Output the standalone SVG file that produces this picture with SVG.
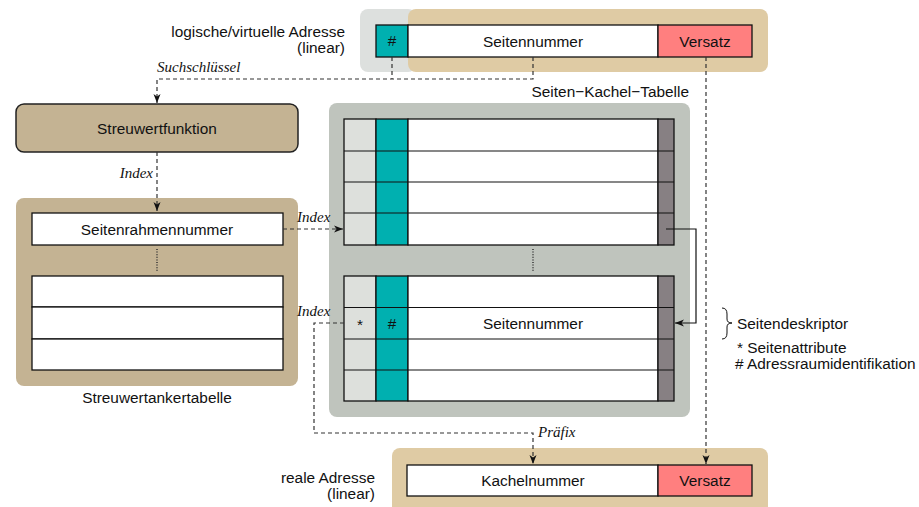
<svg xmlns="http://www.w3.org/2000/svg" width="919" height="507" viewBox="0 0 919 507">
<style>
.t{font-family:"Liberation Sans",Arial,sans-serif;font-size:15.4px;fill:#111}
.i{font-family:"Liberation Serif","Times New Roman",serif;font-style:italic;font-size:15px;fill:#111}
.c{stroke:#111;stroke-width:1.3}
.d{fill:none;stroke:#333;stroke-width:1.2;stroke-dasharray:4 3}
.s{fill:none;stroke:#111;stroke-width:1.2}
.dots{fill:none;stroke:#333;stroke-width:1.5;stroke-dasharray:1 1.6}
</style>
<defs>
<marker id="a" markerWidth="10" markerHeight="8" refX="9" refY="4" orient="auto" markerUnits="userSpaceOnUse">
<path d="M0,0.5 L9,4 L0,7.5 L2.5,4 Z" fill="#111"/>
</marker>
</defs>
<rect width="919" height="507" fill="#fff"/>

<g id="virtual-address">
<rect x="360" y="9" width="56" height="63" rx="8" fill="#dde0de"/>
<rect x="408" y="9" width="360" height="63" rx="8" fill="#dfcba4"/>
<rect x="376" y="25" width="32" height="32" fill="#00b0b0" class="c"/>
<text x="392" y="46" class="t" text-anchor="middle">#</text>
<rect x="408" y="25" width="250" height="32" fill="#fff" class="c"/>
<text x="533" y="46.5" class="t" text-anchor="middle">Seitennummer</text>
<rect x="658" y="25" width="94" height="32" fill="#ff7f7f" class="c"/>
<text x="705" y="46.5" class="t" text-anchor="middle">Versatz</text>
<text x="345" y="37" class="t" text-anchor="end">logische/virtuelle Adresse</text>
<text x="345" y="53" class="t" text-anchor="end">(linear)</text>
</g>

<g id="hash-function">
<rect x="16" y="104" width="282" height="48" rx="8" fill="#c4b393" stroke="#222" stroke-width="1.5"/>
<text x="157" y="134" class="t" text-anchor="middle">Streuwertfunktion</text>
</g>

<g id="hash-anchor-table">
<rect x="16" y="198" width="282" height="188" rx="8" fill="#c4b393"/>
<rect x="32" y="213" width="251" height="32" fill="#fff" class="c"/>
<text x="157" y="235" class="t" text-anchor="middle">Seitenrahmennummer</text>
<line x1="157" y1="249" x2="157" y2="272" class="dots"/>
<rect x="32" y="276" width="251" height="31" fill="#fff" class="c"/>
<rect x="32" y="307" width="251" height="32" fill="#fff" class="c"/>
<rect x="32" y="339" width="251" height="31" fill="#fff" class="c"/>
<text x="157" y="403" class="t" text-anchor="middle">Streuwertankertabelle</text>
</g>

<g id="page-frame-table">
<rect x="329" y="103" width="361" height="314" rx="8" fill="#bfc4bd"/>
<text x="689" y="97" class="t" text-anchor="end">Seiten−Kachel−Tabelle</text>
<g id="upper-rows">
<rect x="344" y="119" width="32" height="126" fill="#dde0dc" class="c"/>
<rect x="376" y="119" width="32" height="126" fill="#00b0b0" class="c"/>
<rect x="408" y="119" width="250" height="126" fill="#fff" class="c"/>
<rect x="658" y="119" width="16" height="126" fill="#878083" class="c"/>
<path d="M344,151H674M344,182H674M344,213H674" class="s"/>
</g>
<line x1="533" y1="249" x2="533" y2="272" class="dots"/>
<g id="lower-rows">
<rect x="344" y="276" width="32" height="125" fill="#dde0dc" class="c"/>
<rect x="376" y="276" width="32" height="125" fill="#00b0b0" class="c"/>
<rect x="408" y="276" width="250" height="125" fill="#fff" class="c"/>
<rect x="658" y="276" width="16" height="125" fill="#878083" class="c"/>
<path d="M344,307.5H674M344,339H674M344,370H674" class="s"/>
<text x="360" y="330" class="t" text-anchor="middle">*</text>
<text x="392" y="329" class="t" text-anchor="middle">#</text>
<text x="533" y="329" class="t" text-anchor="middle">Seitennummer</text>
</g>
</g>

<g id="page-descriptor-legend">
<path d="M722,308 Q727,308 727,314 L727,319 Q727,323 732,323 Q727,323 727,327 L727,333 Q727,339 722,339" fill="none" stroke="#111" stroke-width="1"/>
<text x="737" y="329" class="t">Seitendeskriptor</text>
<text x="737" y="353" class="t">* Seitenattribute</text>
<text x="735" y="369" class="t"># Adressraumidentifikation</text>
</g>

<g id="real-address">
<rect x="392" y="448" width="376" height="70" rx="8" fill="#dfcba4"/>
<rect x="407" y="465" width="251" height="31" fill="#fff" class="c"/>
<text x="533" y="486" class="t" text-anchor="middle">Kachelnummer</text>
<rect x="658" y="465" width="94" height="31" fill="#ff7f7f" class="c"/>
<text x="705" y="486" class="t" text-anchor="middle">Versatz</text>
<text x="375" y="483" class="t" text-anchor="end">reale Adresse</text>
<text x="375" y="499" class="t" text-anchor="end">(linear)</text>
</g>

<g id="connectors">
<path d="M533,57V79H157V103" class="d" marker-end="url(#a)"/>
<path d="M392,57V79" class="d"/>
<text x="157" y="72" class="i">Suchschlüssel</text>
<path d="M157,152V211" class="d" marker-end="url(#a)"/>
<text x="153" y="178" class="i" text-anchor="end">Index</text>
<path d="M283,229H343" class="d" marker-end="url(#a)"/>
<text x="297" y="222" class="i">Index</text>
<path d="M666,229H696V323H675" class="s" marker-end="url(#a)"/>
<path d="M344,323H314V433H533V464" class="d" marker-end="url(#a)"/>
<text x="297" y="316" class="i">Index</text>
<text x="538" y="437" class="i">Präfix</text>
<path d="M706,57V464" class="d" marker-end="url(#a)"/>
</g>
</svg>
